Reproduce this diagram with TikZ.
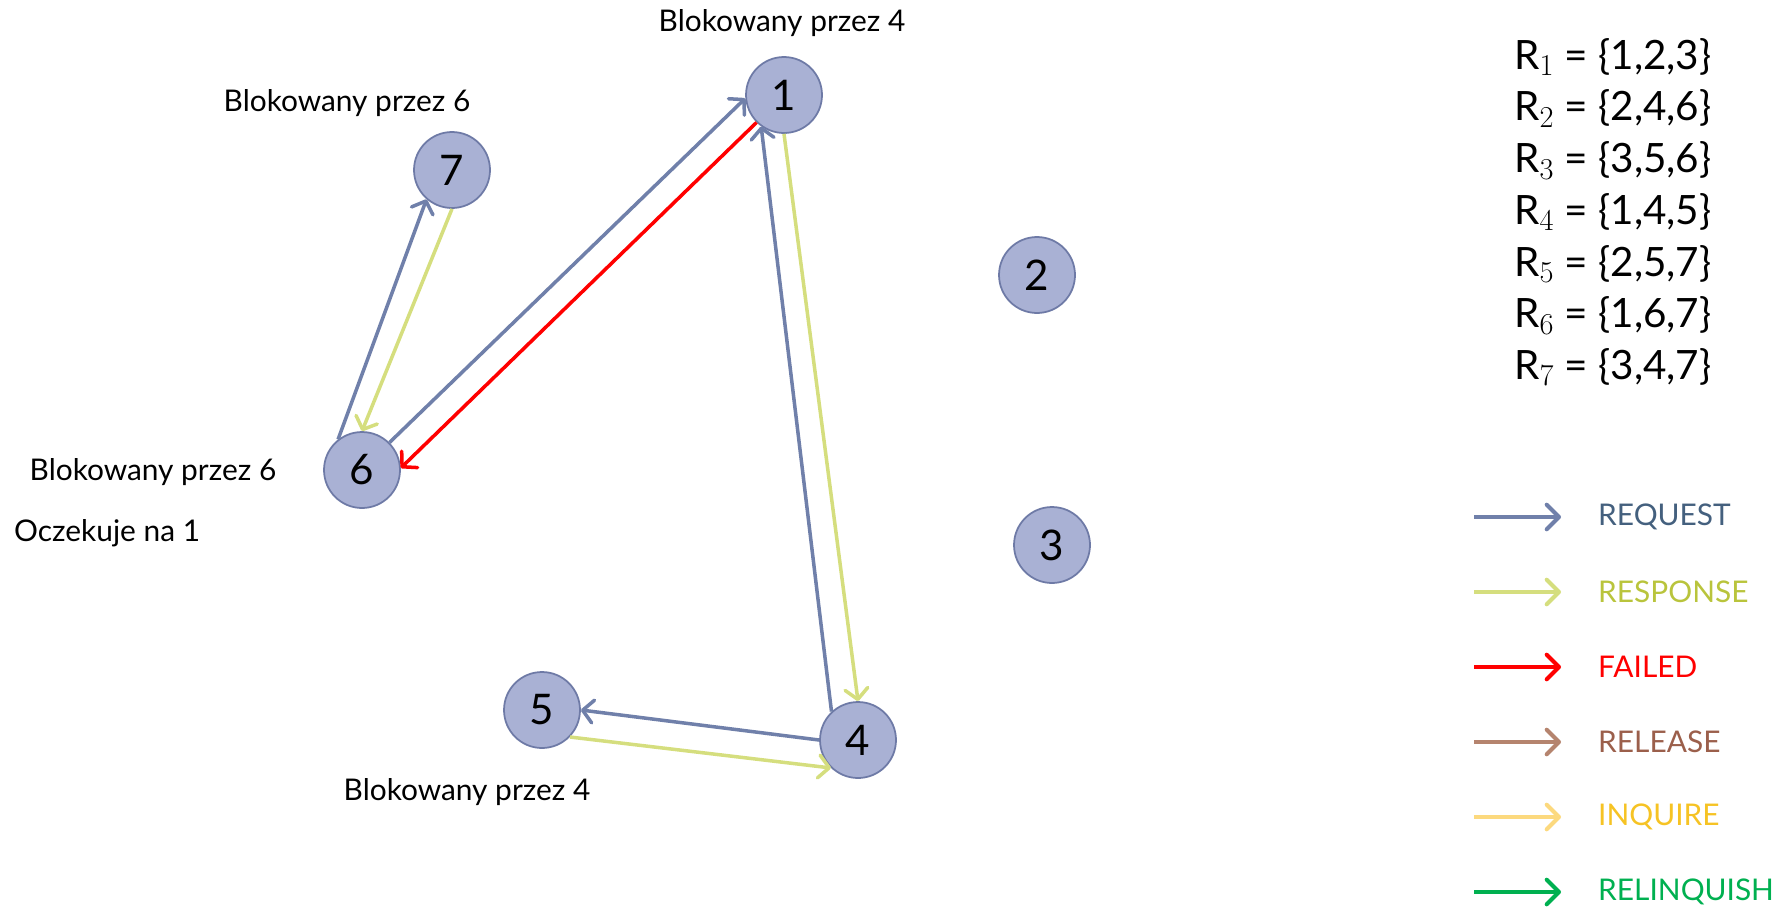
\documentclass[tikz,border=0pt]{standalone}
\usepackage{fontspec}
\setmainfont{Lato}
\usetikzlibrary{arrows.meta}

\definecolor{wezelFill}{HTML}{A9B1D4}
\definecolor{wezelBrzeg}{HTML}{6E7AA6}
\definecolor{requestCol}{HTML}{7080AA}
\definecolor{requestTxt}{HTML}{44607E}
\definecolor{responseCol}{HTML}{D5DE7E}
\definecolor{responseTxt}{HTML}{B9C43C}
\definecolor{failedCol}{HTML}{FF0000}
\definecolor{releaseCol}{HTML}{B5846E}
\definecolor{releaseTxt}{HTML}{9B5F4B}
\definecolor{inquireCol}{HTML}{FCD97E}
\definecolor{inquireTxt}{HTML}{F6C324}
\definecolor{relinqCol}{HTML}{00B050}

\begin{document}
\begin{tikzpicture}[x=0.02cm, y=-0.02cm]

  % ── Style ─────────────────────────────────────────────
  \tikzset{
    wezel/.style = {circle, draw=wezelBrzeg, fill=wezelFill, line width=1pt,
                    minimum size=1.52cm, inner sep=0pt,
                    font=\fontsize{24}{28}\selectfont},
    strzalka/.style = {line width=2pt,
                       -{Straight Barb[length=6pt, width=13pt, round]}},
    zadanie/.style = {strzalka, draw=requestCol},
    odpowiedz/.style = {strzalka, draw=responseCol},
    odmowa/.style = {strzalka, draw=failedCol},
    opis/.style = {font=\fontsize{17}{20}\selectfont},
    zbior/.style = {anchor=west, font=\fontsize{23}{27}\selectfont}
  }

  \useasboundingbox (0,0) rectangle (1787,910);

  % =========================================================
  % 1. WEZLY
  % =========================================================
  \node[wezel] (w1) at (784,95)  {1};
  \node[wezel] (w2) at (1037,275) {2};
  \node[wezel] (w3) at (1052,545) {3};
  \node[wezel] (w4) at (858,740) {4};
  \node[wezel] (w5) at (542,710) {5};
  \node[wezel] (w6) at (362,470) {6};
  \node[wezel] (w7) at (452,170) {7};

  % Opisy stanu wezlow
  \node[opis] (b1) at (782,23)  {Blokowany przez 4};
  \node[opis] (b7) at (347,103) {Blokowany przez 6};
  \node[opis] (b6) at (153,472) {Blokowany przez 6};
  \node[opis, anchor=west] (o6) at (8,533) {Oczekuje na 1};
  \node[opis] (b5) at (467,792) {Blokowany przez 4};

  % =========================================================
  % 2. KOMUNIKATY
  % =========================================================
  \draw[zadanie]   (w6.128) -- (w7.229);
  \draw[odpowiedz] (w7.270) -- (w6.90);
  \draw[zadanie]   (w6.45)  -- (w1.185);
  \draw[odmowa]    (w1.225) -- (w6.3);
  \draw[zadanie]   (w4.133) -- (w1.234);
  \draw[odpowiedz] (w1.270) -- (w4.90);
  \draw[zadanie]   (w4.180) -- (w5.0);
  \draw[odpowiedz] (w5.316) -- (w4.226);

  % =========================================================
  % 3. ZBIORY I LEGENDA
  % =========================================================
  \foreach \i/\s in {1/{1,2,3}, 2/{2,4,6}, 3/{3,5,6}, 4/{1,4,5},
                     5/{2,5,7}, 6/{1,6,7}, 7/{3,4,7}}
    \node[zbior] (r\i) at (1508, {57+51.7*(\i-1)}) {R$_{\i}$ = \{\s\}};

  \foreach \nazwa/\strz/\txt [count=\k from 0] in
      {REQUEST/requestCol/requestTxt, RESPONSE/responseCol/responseTxt,
       FAILED/failedCol/failedCol, RELEASE/releaseCol/releaseTxt,
       INQUIRE/inquireCol/inquireTxt, RELINQUISH/relinqCol/relinqCol}
  {
    \draw[line width=2.3pt, draw=\strz,
          -{Straight Barb[length=7pt, width=14pt, round]}]
      (1474,{517+75*\k}) -- (1561,{517+75*\k});
    \node[anchor=west, text=\txt, font=\fontsize{17}{20}\selectfont]
      (l\k) at (1592,{517+75*\k}) {\nazwa};
  }

\end{tikzpicture}
\end{document}
